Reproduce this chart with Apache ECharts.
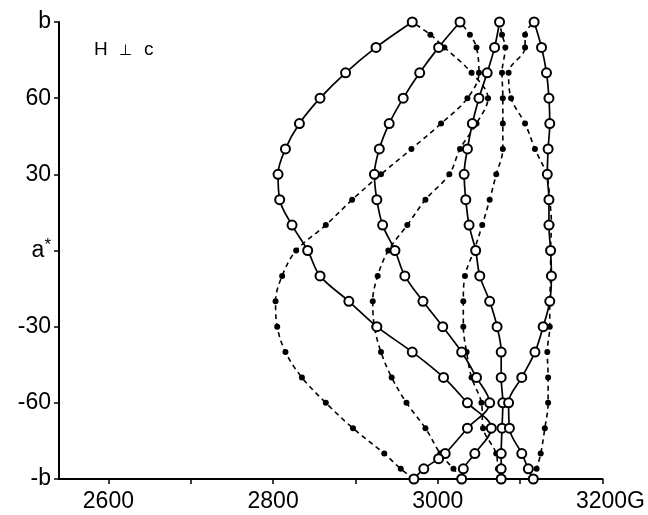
<!DOCTYPE html>
<html>
<head>
<meta charset="utf-8">
<script src="https://cdn.jsdelivr.net/npm/echarts@6/dist/echarts.min.js"></script>
<style>
html,body{margin:0;padding:0;background:#fff;}
#c{width:648px;height:515px;}
</style>
</head>
<body>
<div id="c"></div>
<script>
// Tick values and labels
const xTickValues = [2600, 2700, 2800, 2900, 3000, 3100, 3200];
const xLabelValues = [2600, 2800, 3000, 3200];
const xLabelTexts = ['2600', '2800', '3000', '3200G'];
const yTickValues = [-90, -60, -30, 0, 30, 60, 90];
const yTickLabels = ['-b', '-60', '-30', 'a*', '30', '60', 'b'];

// Solid curves (open circles): [field G, angle deg]
const solid1 = [[2969,90],[2925,80],[2888,70],[2857,60],[2832,50],[2815,40],[2806,30],[2808,20],[2823,10],[2842,0],
  [2857,-10],[2892,-20],[2926,-30],[2969,-40],[3007,-50],[3036,-60],[3065,-70],[3045,-80],[3031,-86],[3029,-90]];
const solid2 = [[3027,90],[3001,80],[2978,70],[2958,60],[2941,50],[2929,40],[2923,30],[2926,20],[2933,10],[2948,0],
  [2960,-10],[2982,-20],[3006,-30],[3029,-40],[3047,-50],[3063,-60],[3036,-70],[3009,-80],[3001,-82],[2983,-86],[2971,-90]];
const solid3 = [[3075,90],[3069,80],[3060,70],[3050,60],[3042,50],[3036,40],[3032,30],[3034,20],[3038,10],[3046,0],
  [3051,-10],[3063,-20],[3072,-30],[3077,-40],[3077,-50],[3079,-60],[3078,-70],[3077,-80],[3077,-86],[3077,-90]];
const solid4 = [[3117,90],[3126,80],[3132,70],[3135,60],[3136,50],[3134,40],[3133,30],[3135,20],[3135,10],[3137,0],
  [3138,-10],[3136,-20],[3128,-30],[3118,-40],[3102,-50],[3086,-60],[3087,-70],[3102,-80],[3110,-86],[3116,-90]];

// Dashed curves (filled dots): [field G, angle deg]
const dashed1 = [[2971,-90],[2955,-86],[2935,-80],[2897,-70],[2864,-60],[2835,-50],[2815,-40],[2805,-30],[2803,-20],[2811,-10],
  [2828,0],[2864,10],[2896,20],[2931,30],[2968,40],[3004,50],[3036,60],[3050,70],[3047,80],[3039,85],[3027,90]];
const dashed2 = [[3029,-90],[3019,-86],[3003,-80],[2985,-70],[2962,-60],[2944,-50],[2931,-40],[2923,-30],[2921,-20],[2927,-10],
  [2940,0],[2963,10],[2985,20],[3014,30],[3027,40],[3047,50],[3061,60],[3041,70],[3008,80],[2991,85],[2969,90]];
const dashed3 = [[3077,-90],[3073,-86],[3071,-80],[3055,-70],[3053,-60],[3041,-50],[3035,-40],[3031,-30],[3031,-20],[3033,-10],
  [3044,0],[3054,10],[3063,20],[3071,30],[3079,40],[3079,50],[3079,60],[3078,70],[3082,80],[3078,85],[3075,90]];
const dashed4 = [[3116,-90],[3120,-86],[3125,-80],[3130,-70],[3134,-60],[3134,-50],[3133,-40],[3136,-30],[3136,-20],[3137,-10],
  [3137,0],[3138,10],[3136,20],[3132,30],[3118,40],[3106,50],[3089,60],[3086,70],[3106,80],[3106,85],[3117,90]];

const FONT = '"Liberation Sans", Arial, sans-serif';

function dashedSeries(d) {
  return {
    type: 'line', data: d, smooth: 0.35, clip: false, z: 2,
    symbol: 'circle', symbolSize: 6,
    itemStyle: { color: '#000' },
    lineStyle: { color: '#000', width: 1.6, type: [5, 4] }
  };
}
function solidSeries(d) {
  return {
    type: 'line', data: d, smooth: 0.35, clip: false, z: 3,
    symbol: 'emptyCircle', symbolSize: 9,
    itemStyle: { color: '#000', borderColor: '#000', borderWidth: 1.6 },
    lineStyle: { color: '#000', width: 1.7 }
  };
}

const chart = echarts.init(document.getElementById('c'), null, { renderer: 'canvas' });
chart.setOption({
  animation: false,
  backgroundColor: '#fff',
  grid: { left: 59, right: 43, top: 22, bottom: 36, containLabel: false },
  xAxis: {
    type: 'value', min: 2540, max: 3200,
    splitLine: { show: false },
    axisLine: { show: true, onZero: false, lineStyle: { color: '#000', width: 2 } },
    axisTick: { show: true, length: 5, inside: false, customValues: xTickValues, lineStyle: { color: '#000', width: 1.5 } },
    axisLabel: {
      customValues: xLabelValues, margin: 11, color: '#000', fontFamily: FONT, fontSize: 23,
      formatter: function (v) {
        const t = xLabelTexts[xLabelValues.indexOf(v)];
        return t === '3200G' ? '{p|}3200G' : t;
      },
      rich: { p: { width: 16 } }
    }
  },
  yAxis: {
    type: 'value', min: -90, max: 90, interval: 30,
    splitLine: { show: false },
    axisLine: { show: true, onZero: false, lineStyle: { color: '#000', width: 2 } },
    axisTick: { show: true, length: 5, inside: false, lineStyle: { color: '#000', width: 1.5 } },
    axisLabel: {
      margin: 8, color: '#000', fontFamily: FONT, fontSize: 23,
      formatter: function (v) {
        const t = yTickLabels[yTickValues.indexOf(v)];
        return t === 'a*' ? 'a{s|*}' : t;
      },
      rich: { s: { fontSize: 17, padding: [0, 0, 10, 0], fontFamily: FONT, color: '#000' } }
    }
  },
  graphic: [
    { type: 'text', left: 94, top: 40, style: { text: 'H', font: '19px ' + FONT, fill: '#000' } },
    { type: 'text', left: 119, top: 43, style: { text: '⊥', font: '15px ' + FONT, fill: '#000' } },
    { type: 'text', left: 144, top: 40, style: { text: 'c', font: '19px ' + FONT, fill: '#000' } }
  ],
  series: [
    dashedSeries(dashed1), dashedSeries(dashed2), dashedSeries(dashed3), dashedSeries(dashed4),
    solidSeries(solid1), solidSeries(solid2), solidSeries(solid3), solidSeries(solid4)
  ]
});
</script>
</body>
</html>
